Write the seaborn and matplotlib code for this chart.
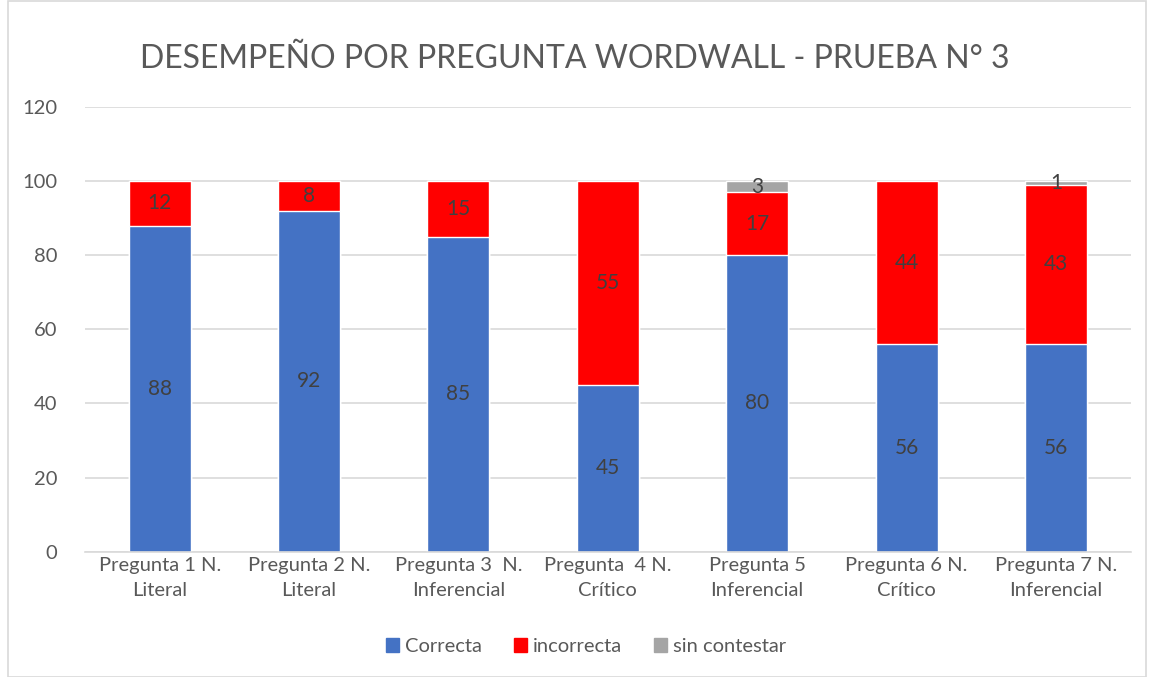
import matplotlib
matplotlib.use("Agg")
import matplotlib.pyplot as plt
import matplotlib.patches as mpatches
import seaborn as sns
import pandas as pd
import numpy as np

preguntas = ["Pregunta 1 N.\nLiteral", "Pregunta 2 N.\nLiteral", "Pregunta 3  N.\nInferencial",
             "Pregunta  4 N.\nCrítico", "Pregunta 5\nInferencial", "Pregunta 6 N.\nCrítico",
             "Pregunta 7 N.\nInferencial"]
correcta = [88, 92, 85, 45, 80, 56, 56]
incorrecta = [12, 8, 15, 55, 17, 44, 43]
sin_contestar = [0, 0, 0, 0, 3, 0, 1]

series_names = ["Correcta", "incorrecta", "sin contestar"]
colors = ["#4472C4", "#FF0000", "#A5A5A5"]

sns.set_style("white")
plt.rcParams['font.family'] = ['Lato', 'DejaVu Sans']

df = pd.DataFrame({"pregunta": preguntas, "Correcta": correcta,
                   "incorrecta": incorrecta, "sin contestar": sin_contestar})
df["c1"] = df["Correcta"]
df["c2"] = df["c1"] + df["incorrecta"]
df["c3"] = df["c2"] + df["sin contestar"]

fig = plt.figure(figsize=(11.49, 6.77), dpi=100)
ax = fig.add_axes([0.074, 0.185, 0.91, 0.657])

# stacked by overlaying cumulative totals
for col, color in zip(["c3", "c2", "c1"], colors[::-1]):
    sns.barplot(data=df, x="pregunta", y=col, color=color, width=0.415,
                saturation=1, ax=ax, zorder=2)

# segment labels
for i, row in df.iterrows():
    bottom = 0
    for name in series_names:
        v = row[name]
        if v > 0:
            ax.text(i, bottom + v / 2, str(v), ha="center", va="center",
                    fontsize=15, color="#404040", zorder=3)
        bottom += v

ax.set_ylim(0, 120)
ax.set_yticks(range(0, 121, 20))
ax.yaxis.grid(True, color="#D9D9D9", linewidth=1.2, zorder=0)
ax.set_axisbelow(True)
for s in ["top", "right", "left"]:
    ax.spines[s].set_visible(False)
ax.spines["bottom"].set_color("#D9D9D9")
ax.spines["bottom"].set_linewidth(1.2)
ax.tick_params(axis="both", length=0, labelsize=14.5, labelcolor="#595959")
ax.tick_params(axis="y", pad=20)
ax.tick_params(axis="x", pad=4)
for lbl in ax.get_xticklabels():
    lbl.set_linespacing(1.55)
ax.set_xlabel("")
ax.set_ylabel("")

fig.suptitle("DESEMPEÑO POR PREGUNTA WORDWALL - PRUEBA N° 3", y=0.935,
             fontsize=23, color="#595959")

handles = [mpatches.Patch(color=c, label=n) for c, n in zip(colors, series_names)]
fig.legend(handles=handles, loc="center", bbox_to_anchor=(0.51, 0.045), ncol=3,
           frameon=False, fontsize=14.5, labelcolor="#595959", handlelength=0.65,
           handleheight=0.65, handletextpad=0.3, columnspacing=1.6)

fig.add_artist(mpatches.Rectangle((0.007, 0.0), 0.99, 0.998, transform=fig.transFigure,
                                  fill=False, edgecolor="#D9D9D9", linewidth=1.2))

plt.savefig("out.png", dpi=100)
